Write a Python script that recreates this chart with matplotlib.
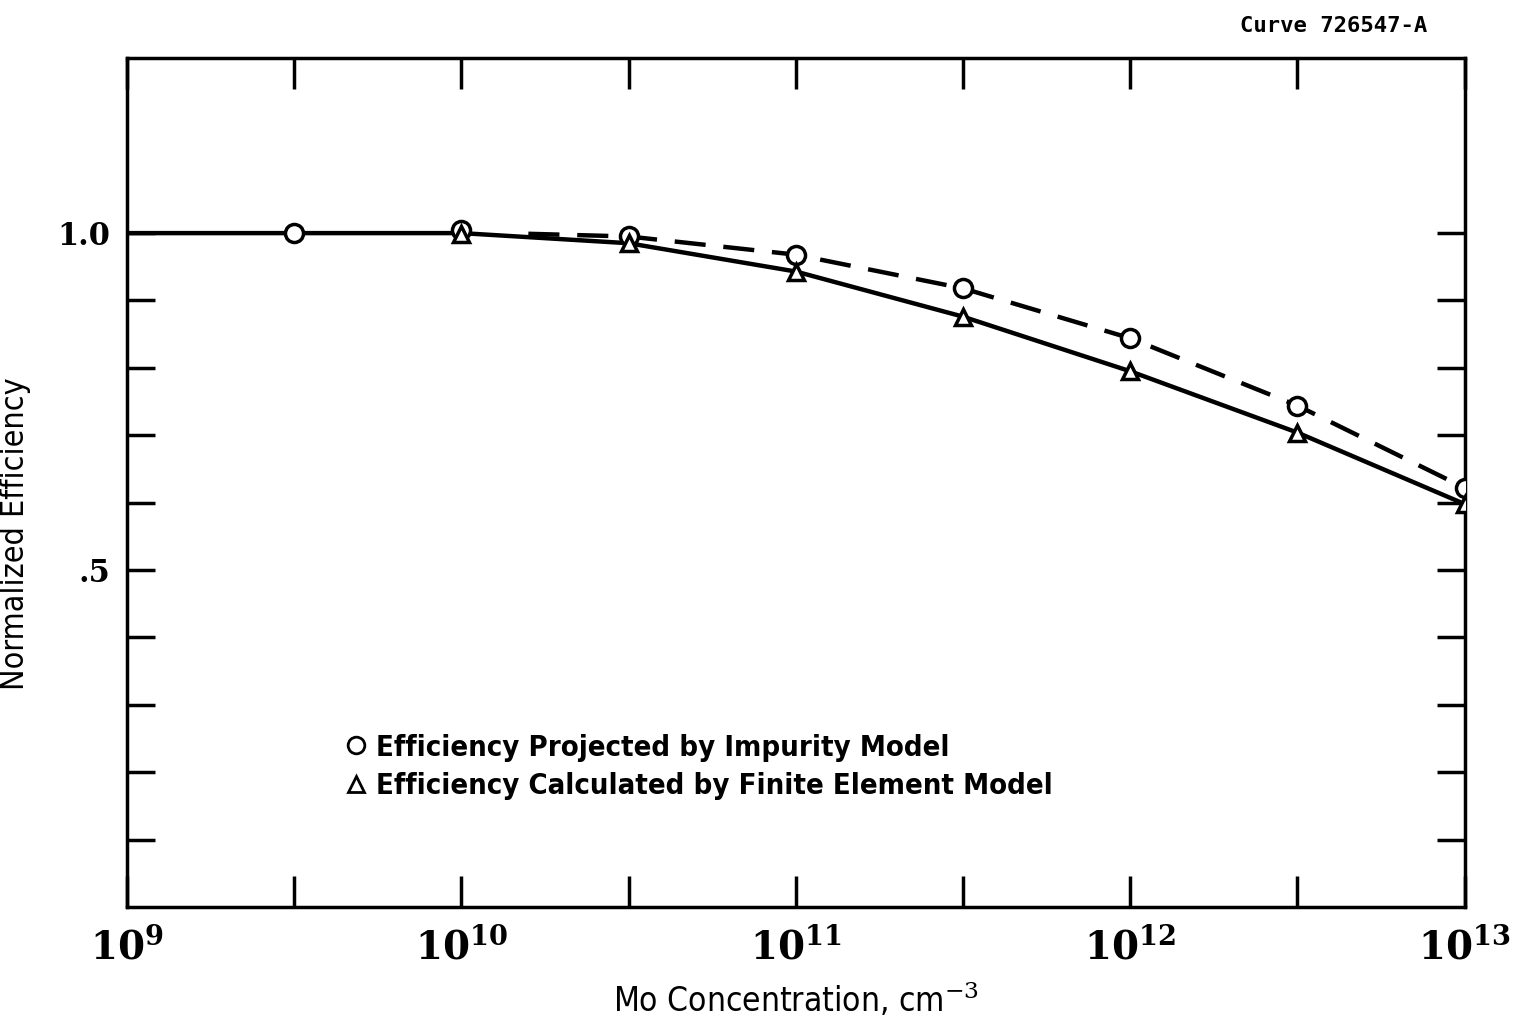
import matplotlib.pyplot as plt
from matplotlib.lines import Line2D
import numpy as np

plt.rcParams['mathtext.fontset'] = 'dejavuserif'

# data (x = log10 of Mo concentration)
circle_exp = [9.5, 10.0, 10.5, 11.0, 11.5, 12.0, 12.5, 13.0]
circle_eff = [1.000, 1.004, 0.995, 0.968, 0.918, 0.844, 0.744, 0.622]

tri_exp = [10.0, 10.5, 11.0, 11.5, 12.0, 12.5, 13.0]
tri_eff = [0.998, 0.985, 0.943, 0.876, 0.795, 0.704, 0.598]

# solid curve (finite element) and dashed curve (impurity model)
solid_exp = [9.0, 9.5, 10.0, 10.5, 11.0, 11.5, 12.0, 12.5, 13.0]
solid_eff = [1.0, 1.0, 1.0, 0.985, 0.943, 0.876, 0.795, 0.704, 0.598]
dash_exp = [10.2, 10.5, 11.0, 11.5, 12.0, 12.5, 13.0]
dash_eff = [0.999, 0.995, 0.968, 0.918, 0.844, 0.744, 0.622]

decades = [9, 10, 11, 12, 13]
yticks = [0.1, 0.2, 0.3, 0.4, 0.5, 0.6, 0.7, 0.8, 0.9, 1.0]

narrow = dict(family='DejaVu Sans', stretch='condensed')

fig = plt.figure(figsize=(15.13, 10.23), dpi=100)
ax = fig.add_axes([0.084, 0.1134, 0.884, 0.83])

ax.set_xscale('log')
ax.set_xlim(1e9, 1e13)
ax.set_ylim(0.0, 1.26)

ax.plot([10**e for e in solid_exp], solid_eff, color='black', lw=3.2, zorder=2)
ax.plot([10**e for e in dash_exp], dash_eff, color='black', lw=3.2,
        dashes=(7, 4), zorder=2)
ax.plot([10**e for e in circle_exp], circle_eff, 'o', ms=13, mfc='white',
        mec='black', mew=2.5, zorder=3)
ax.plot([10**e for e in tri_exp], tri_eff, '^', ms=11, mfc='white',
        mec='black', mew=2.5, zorder=4)

for s in ax.spines.values():
    s.set_linewidth(2.5)

half = [10**(d + 0.5) for d in decades[:-1]] + [10**d for d in decades]
ax.set_xticks([10**d for d in decades])
ax.set_xticks(sorted(half), minor=True)
ax.set_xticklabels([''] * len(decades))
ax.xaxis.set_minor_formatter(plt.NullFormatter())
ax.tick_params(axis='x', which='both', direction='in', length=22, width=2.5,
               top=True, bottom=True)

ax.set_yticks(yticks)
ax.set_yticklabels(['' if abs(v - 1.0) > 1e-6 and abs(v - 0.5) > 1e-6 else
                    ('1.0' if v == 1.0 else '.5') for v in yticks],
                   family='DejaVu Serif', fontweight='bold', fontsize=22)
ax.yaxis.set_minor_locator(plt.NullLocator())
ax.tick_params(axis='y', which='both', direction='in', length=20, width=2.5,
               left=True, right=True, pad=12)

# decade labels drawn as text below axis
for d in decades:
    ax.text(10**d, -0.03, r'$\mathbf{10^{%d}}$' % d, ha='center', va='top',
            fontsize=28, transform=ax.transData)

ax.set_xlabel('Mo Concentration, cm$^{-3}$', fontsize=24, labelpad=50, **narrow)
ax.set_ylabel('Normalized Efficiency', fontsize=23, **narrow)
ax.yaxis.set_label_coords(-0.072, 0.44)

handles = [Line2D([], [], ls='none', marker='o', ms=12, mfc='white', mec='black', mew=2),
           Line2D([], [], ls='none', marker='^', ms=11, mfc='white', mec='black', mew=2)]
ax.legend(handles, ['Efficiency Projected by Impurity Model',
                    'Efficiency Calculated by Finite Element Model'],
          loc='upper left', bbox_to_anchor=(0.145, 0.235), frameon=False,
          handlelength=0.6, handletextpad=0.4, labelspacing=0.35,
          prop={'family': 'DejaVu Sans', 'stretch': 'condensed',
                'size': 21, 'weight': 'bold'})

fig.text(0.943, 0.975, 'Curve 726547-A', ha='right', va='center',
         fontsize=16, family='DejaVu Sans Mono', fontweight='bold')

fig.savefig('out.png', dpi=100)
